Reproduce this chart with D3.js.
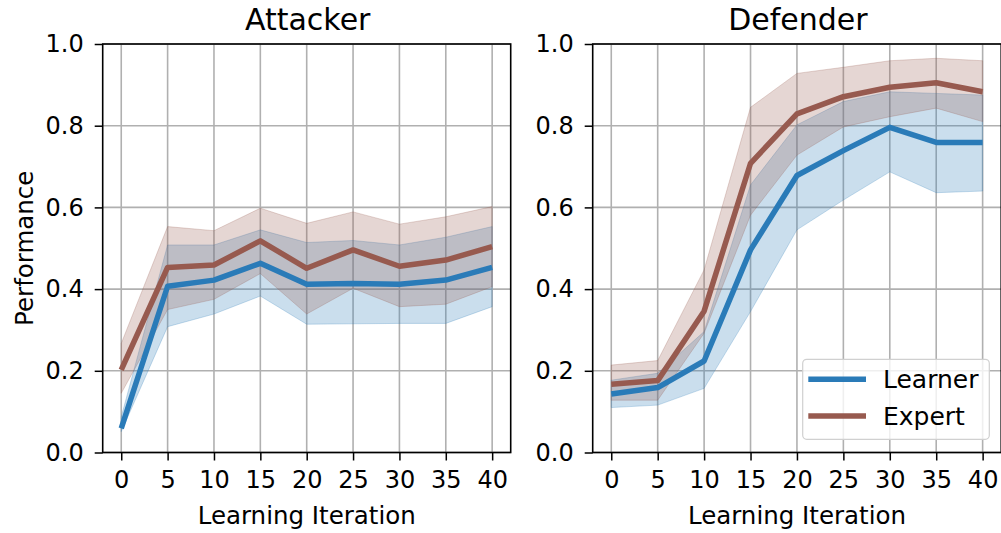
<!DOCTYPE html>
<html><head><meta charset="utf-8">
<script src="https://cdn.jsdelivr.net/npm/d3@7"></script>
<style>body{margin:0;background:#fff;} svg{display:block;} text{font-family:"DejaVu Sans",sans-serif;fill:#000;}</style>
</head><body>
<svg id="chart" width="1001" height="533"></svg>
<script>
const iterations = [0,5,10,15,20,25,30,35,40];
const xTicks = [0,5,10,15,20,25,30,35,40];
const yTicks = [0.0,0.2,0.4,0.6,0.8,1.0];
const seriesNames = ["Learner","Expert"];
const colors = {Learner:"#2a7bb8", Expert:"#975a4f"};

// Attacker
const attLearner      = [0.059,0.407,0.422,0.463,0.412,0.414,0.412,0.422,0.453];
const attLearnerUpper = [0.087,0.508,0.508,0.545,0.514,0.519,0.508,0.527,0.553];
const attLearnerLower = [0.051,0.308,0.339,0.383,0.314,0.315,0.316,0.316,0.357];
const attExpert       = [0.202,0.453,0.459,0.518,0.451,0.496,0.456,0.471,0.504];
const attExpertUpper  = [0.267,0.553,0.543,0.598,0.561,0.589,0.559,0.577,0.602];
const attExpertLower  = [0.145,0.350,0.375,0.438,0.339,0.402,0.357,0.363,0.406];

// Defender
const defLearner      = [0.143,0.159,0.224,0.496,0.678,0.739,0.796,0.759,0.759];
const defLearnerUpper = [0.177,0.194,0.296,0.655,0.802,0.859,0.883,0.879,0.875];
const defLearnerLower = [0.110,0.116,0.157,0.345,0.545,0.618,0.687,0.636,0.640];
const defExpert       = [0.167,0.176,0.346,0.708,0.829,0.871,0.894,0.905,0.883];
const defExpertUpper  = [0.214,0.225,0.447,0.845,0.928,0.943,0.959,0.965,0.959];
const defExpertLower  = [0.128,0.128,0.292,0.581,0.728,0.797,0.822,0.843,0.810];

const panels = [
  {title:"Attacker", left:102.7, right:510.7, showYLabel:true, legend:false,
   series:[
     {name:"Learner", mean:attLearner, lo:attLearnerLower, hi:attLearnerUpper},
     {name:"Expert", mean:attExpert, lo:attExpertLower, hi:attExpertUpper}]},
  {title:"Defender", left:592.7, right:1001.2, showYLabel:false, legend:true,
   series:[
     {name:"Learner", mean:defLearner, lo:defLearnerLower, hi:defLearnerUpper},
     {name:"Expert", mean:defExpert, lo:defExpertLower, hi:defExpertUpper}]}
];

const plotTop = 44, plotBottom = 452.5;
const svg = d3.select("#chart");

panels.forEach(p => {
  const x = d3.scaleLinear().domain([-2,42]).range([p.left,p.right]);
  const y = d3.scaleLinear().domain([0,1]).range([plotBottom,plotTop]);
  const g = svg.append("g");

  // grid
  g.append("g").selectAll("line").data(xTicks).join("line")
    .attr("x1",d=>x(d)).attr("x2",d=>x(d)).attr("y1",plotTop).attr("y2",plotBottom)
    .attr("stroke","#b0b0b0").attr("stroke-width",1.6);
  g.append("g").selectAll("line").data(yTicks).join("line")
    .attr("y1",d=>y(d)).attr("y2",d=>y(d)).attr("x1",p.left).attr("x2",p.right)
    .attr("stroke","#b0b0b0").attr("stroke-width",1.6);

  // bands
  p.series.forEach(s => {
    const area = d3.area().x((d,i)=>x(iterations[i])).y0((d,i)=>y(s.lo[i])).y1((d,i)=>y(s.hi[i]));
    g.append("path").datum(s.mean).attr("d",area)
      .attr("fill",colors[s.name]).attr("fill-opacity",0.25)
      .attr("stroke",colors[s.name]).attr("stroke-opacity",0.25).attr("stroke-width",1);
  });
  // lines
  p.series.forEach(s => {
    const line = d3.line().x((d,i)=>x(iterations[i])).y(d=>y(d));
    g.append("path").datum(s.mean).attr("d",line)
      .attr("fill","none").attr("stroke",colors[s.name]).attr("stroke-width",5.5)
      .attr("stroke-linejoin","round").attr("stroke-linecap","butt");
  });

  // axes
  const xAxis = d3.axisBottom(x).tickValues(xTicks).tickSize(8).tickPadding(10).tickFormat(d3.format("d"));
  const yAxis = d3.axisLeft(y).tickValues(yTicks).tickSize(8).tickPadding(11).tickFormat(d3.format(".1f"));
  const gx = g.append("g").attr("transform",`translate(0,${plotBottom})`).call(xAxis);
  const gy = g.append("g").attr("transform",`translate(${p.left},0)`).call(yAxis);
  [gx,gy].forEach(a=>{
    a.select(".domain").remove();
    a.selectAll(".tick line").attr("stroke","#000").attr("stroke-width",1.5);
    a.selectAll(".tick text").attr("font-size",24).attr("font-family","DejaVu Sans").attr("fill","#222");
  });

  // frame
  g.append("rect").attr("x",p.left).attr("y",plotTop).attr("width",p.right-p.left).attr("height",plotBottom-plotTop)
    .attr("fill","none").attr("stroke","#000").attr("stroke-width",1.6);

  // title
  g.append("text").attr("x",(p.left+p.right)/2+1).attr("y",29.5).attr("text-anchor","middle")
    .attr("font-size",30).attr("fill","#222").text(p.title);
  // x label
  g.append("text").attr("x",(p.left+p.right)/2).attr("y",524).attr("text-anchor","middle")
    .attr("font-size",24.5).attr("fill","#222").text("Learning Iteration");
  if (p.showYLabel) {
    g.append("text").attr("transform",`translate(33,${(plotTop+plotBottom)/2}) rotate(-90)`)
      .attr("text-anchor","middle").attr("font-size",24.5).attr("fill","#222").text("Performance");
  }
  if (p.legend) {
    const lg = g.append("g");
    lg.append("rect").attr("x",802.7).attr("y",359.3).attr("width",186.6).attr("height",80)
      .attr("rx",4).attr("fill","#fff").attr("fill-opacity",0.8).attr("stroke","#d0d0d0").attr("stroke-width",1.2);
    seriesNames.forEach((n,i)=>{
      const yy = 379.3 + i*36.7;
      lg.append("line").attr("x1",808.3).attr("x2",866).attr("y1",yy).attr("y2",yy)
        .attr("stroke",colors[n]).attr("stroke-width",5.5);
      lg.append("text").attr("x",883).attr("y",yy+8.5).attr("font-size",25).attr("fill","#222").text(n);
    });
  }
});
</script>
</body></html>
